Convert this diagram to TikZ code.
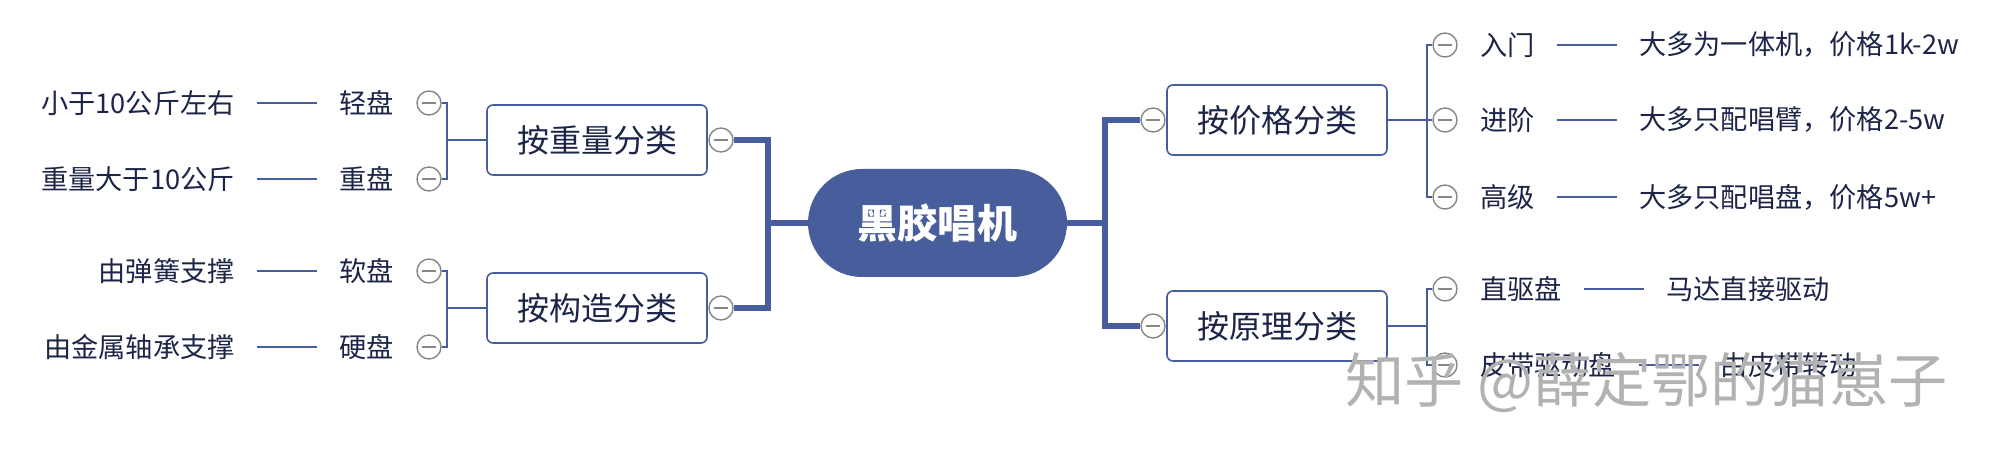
\documentclass[tikz,border=0pt]{standalone}
\usepackage{fontspec}
\setmainfont{Noto Sans CJK SC}
\usetikzlibrary{positioning,calc}
\definecolor{mapblue}{RGB}{72,93,155}
\definecolor{mapink}{RGB}{28,37,72}
\definecolor{foldgray}{RGB}{135,135,135}
\definecolor{wmgray}{RGB}{178,178,178}

\begin{document}
\begin{tikzpicture}[
    x=0.5pt, y=-0.5pt,
    root/.style={fill=mapblue, rounded corners=27pt, minimum width=129.5pt, minimum height=54pt,
                 inner sep=0pt, text=white, font=\fontsize{20}{22}\selectfont\bfseries},
    cat/.style={draw=mapblue, line width=0.8pt, rounded corners=3pt, fill=white,
                minimum width=110pt, minimum height=35pt, inner sep=0pt,
                text=mapink, font=\fontsize{16}{18}\selectfont},
    leaf/.style={inner sep=0pt, text=mapink, font=\fontsize{13.6}{16}\selectfont},
    fold/.style={circle, draw=foldgray, line width=0.7pt, fill=white, minimum size=12pt, inner sep=0pt,
                 path picture={\draw[foldgray, line width=0.7pt]
                   ([xshift=-3.6pt]path picture bounding box.center) --
                   ([xshift=3.6pt]path picture bounding box.center);}},
    trunk/.style={draw=mapblue, line width=2.6pt},
    twig/.style={draw=mapblue, line width=0.8pt},
    tie/.style={twig, shorten <=11pt, shorten >=11pt},
    wm/.style={inner sep=0pt, text=wmgray, font=\fontsize{29.6}{32}\selectfont}
  ]
  \useasboundingbox (0,0) rectangle (1998,464);

  % ================= ROOT =================
  \node[root] (root) at (937.5,223) {黑胶唱机};

  % ================= LEFT: weight / build =================
  \node[cat]  (weight)  at (597,140) {按重量分类};
  \node[cat]  (build)   at (597,308) {按构造分类};
  \node[fold] (fweight) at (721,140) {};
  \node[fold] (fbuild)  at (721,308) {};

  \coordinate (ljoin) at (768,223);
  \draw[trunk] (fweight.east) -| (ljoin) |- (fbuild.east);
  \draw[trunk] (root.west) -- (ljoin);

  % weight leaves
  \node[fold] (flight) at (429,103) {};
  \node[leaf, left=11pt of flight] (light) {轻盘};
  \node[leaf, left=52pt of light] (dlight) {小于10公斤左右};
  \draw[tie] (light) -- (dlight);

  \node[fold] (fheavy) at (429,179) {};
  \node[leaf, left=11pt of fheavy] (heavy) {重盘};
  \node[leaf, left=52pt of heavy] (dheavy) {重量大于10公斤};
  \draw[tie] (heavy) -- (dheavy);

  \coordinate (lb1) at (447,140);
  \draw[twig] (flight.east) -| (lb1) |- (fheavy.east);
  \draw[twig] (weight.west) -- (lb1);

  % build leaves
  \node[fold] (fsoft) at (429,271) {};
  \node[leaf, left=11pt of fsoft] (soft) {软盘};
  \node[leaf, left=52pt of soft] (dsoft) {由弹簧支撑};
  \draw[tie] (soft) -- (dsoft);

  \node[fold] (fhard) at (429,347) {};
  \node[leaf, left=11pt of fhard] (hard) {硬盘};
  \node[leaf, left=52pt of hard] (dhard) {由金属轴承支撑};
  \draw[tie] (hard) -- (dhard);

  \coordinate (lb2) at (447,308);
  \draw[twig] (fsoft.east) -| (lb2) |- (fhard.east);
  \draw[twig] (build.west) -- (lb2);

  % ================= RIGHT: price / principle =================
  \node[cat]  (price)  at (1277,120) {按价格分类};
  \node[cat]  (princ)  at (1277,326) {按原理分类};
  \node[fold] (fprice) at (1153,120) {};
  \node[fold] (fprinc) at (1153,326) {};

  \coordinate (rjoin) at (1105,223);
  \draw[trunk] (fprice.west) -| (rjoin) |- (fprinc.west);
  \draw[trunk] (root.east) -- (rjoin);

  % price leaves
  \node[fold] (fentry) at (1445,45) {};
  \node[leaf, right=11pt of fentry] (entry) {入门};
  \node[leaf, right=52pt of entry] (dentry) {大多为一体机，价格1k-2w};
  \draw[tie] (entry) -- (dentry);

  \node[fold] (fmid) at (1445,120) {};
  \node[leaf, right=11pt of fmid] (mid) {进阶};
  \node[leaf, right=52pt of mid] (dmid) {大多只配唱臂，价格2-5w};
  \draw[tie] (mid) -- (dmid);

  \node[fold] (fhigh) at (1445,197) {};
  \node[leaf, right=11pt of fhigh] (high) {高级};
  \node[leaf, right=52pt of high] (dhigh) {大多只配唱盘，价格5w+};
  \draw[tie] (high) -- (dhigh);

  \coordinate (rb1) at (1427,120);
  \draw[twig] (fentry.west) -| (rb1) |- (fhigh.west);
  \draw[twig] (price.east) -- (fmid.west);

  % principle leaves
  \node[fold] (fdirect) at (1445,289) {};
  \node[leaf, right=11pt of fdirect] (direct) {直驱盘};
  \node[leaf, right=52pt of direct] (ddirect) {马达直接驱动};
  \draw[tie] (direct) -- (ddirect);

  \node[fold] (fbelt) at (1445,365) {};
  \node[leaf, right=11pt of fbelt] (belt) {皮带驱动盘};
  \node[leaf, right=52pt of belt] (dbelt) {由皮带转动};
  \draw[tie] (belt) -- (dbelt);

  \coordinate (rb2) at (1427,326);
  \draw[twig] (fdirect.west) -| (rb2) |- (fbelt.west);
  \draw[twig] (princ.east) -- (rb2);

  % watermark
  \node[wm, anchor=west] (mark) at (1345,383) {知乎 @薛定鄂的猫崽子};

\end{tikzpicture}
\end{document}
